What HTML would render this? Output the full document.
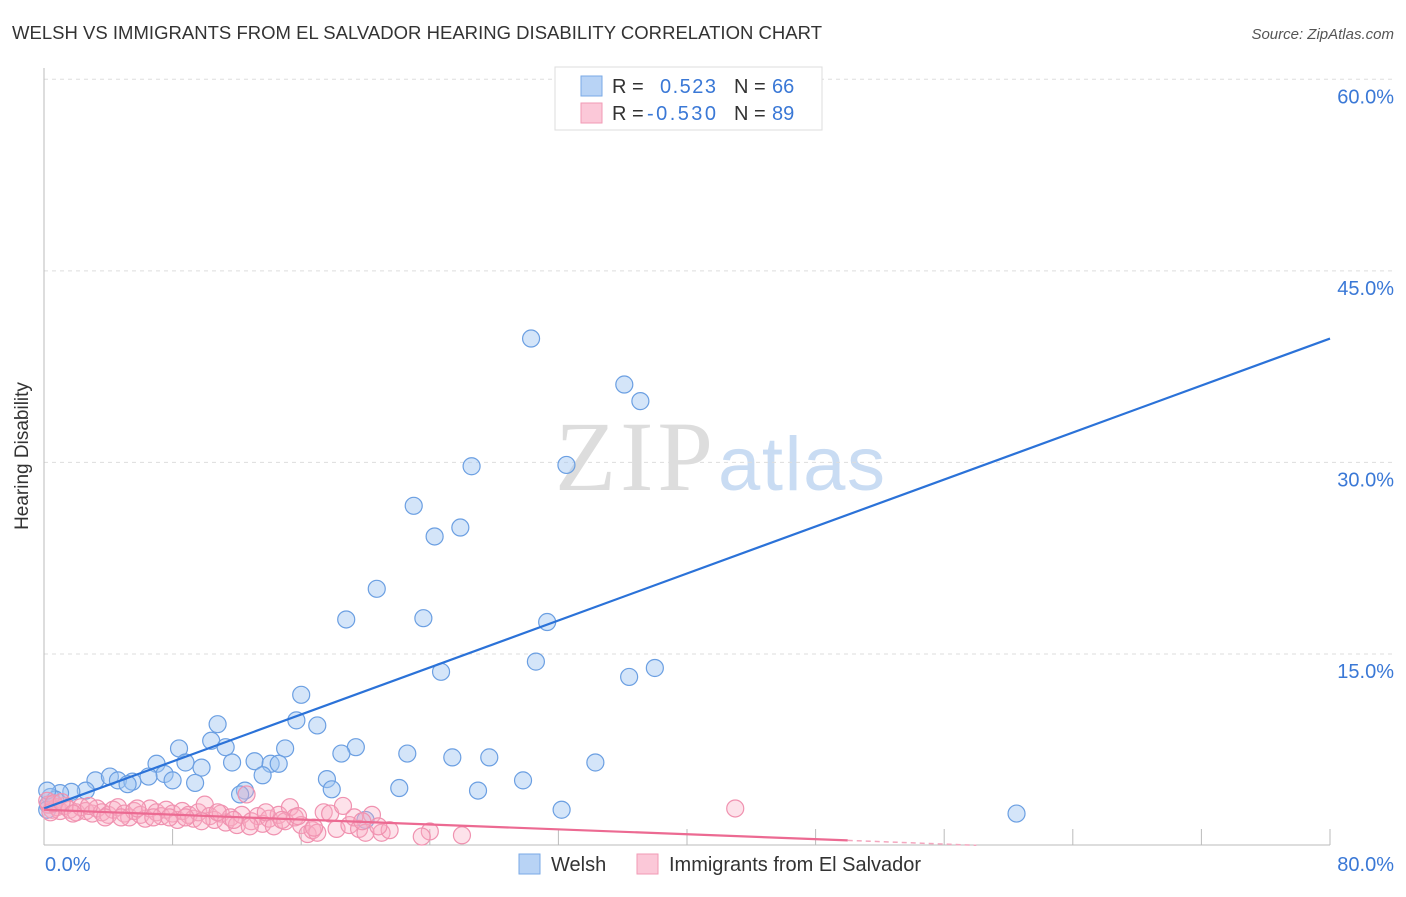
<!DOCTYPE html>
<html><head><meta charset="utf-8"><style>
body{margin:0;background:#fff;font-family:"Liberation Sans",sans-serif;}
svg text{font-family:"Liberation Sans",sans-serif;}
</style></head><body>
<svg id="chart" width="1406" height="892">
<text x="12" y="39" font-size="18.5" fill="#333" textLength="810">WELSH VS IMMIGRANTS FROM EL SALVADOR HEARING DISABILITY CORRELATION CHART</text>
<text x="1394" y="39" font-size="15" fill="#555" font-style="italic" text-anchor="end">Source: ZipAtlas.com</text>
<text x="28" y="456" font-size="19" fill="#333" text-anchor="middle" transform="rotate(-90 28 456)">Hearing Disability</text>
<g>
<text x="555" y="490" font-size="100" fill="#ddd" textLength="158" style="font-family:'Liberation Serif',serif">ZIP</text>
<text x="718" y="490" font-size="76" fill="#c9dcf3" textLength="167">atlas</text>
</g>
<g id="grid"></g>
<g id="axes"></g>
<g id="pts"></g>
<g id="lines"></g>
<g>
<rect x="555" y="67" width="267" height="63" fill="#fff" stroke="#ddd"/>
<rect x="581" y="76" width="21" height="20" fill="#b8d3f5" stroke="#7aaae6"/>
<text x="612" y="93" font-size="20" fill="#333">R =</text>
<text x="660" y="93" font-size="20" fill="#3a78d6" textLength="56">0.523</text>
<text x="734" y="93" font-size="20" fill="#333">N =</text>
<text x="772" y="93" font-size="20" fill="#3a78d6">66</text>
<rect x="581" y="103" width="21" height="20" fill="#fbc8d8" stroke="#f19ab5"/>
<text x="612" y="120" font-size="20" fill="#333">R =</text>
<text x="647" y="120" font-size="20" fill="#3a78d6" textLength="69">-0.530</text>
<text x="734" y="120" font-size="20" fill="#333">N =</text>
<text x="772" y="120" font-size="20" fill="#3a78d6">89</text>
</g>
<g>
<rect x="519" y="854" width="21" height="20" fill="#b8d3f5" stroke="#7aaae6"/>
<text x="551" y="871" font-size="20" fill="#333">Welsh</text>
<rect x="637" y="854" width="21" height="20" fill="#fbc8d8" stroke="#f19ab5"/>
<text x="669" y="871" font-size="20" fill="#333" textLength="252">Immigrants from El Salvador</text>
</g>
</svg>
<script>
const yTicks=[15,30,45,60];
const yTickLabels=["15.0%","30.0%","45.0%","60.0%"];
const xTickLabels=["0.0%","80.0%"];
const welshX=[30.3,36.1,37.1,26.6,32.5,23.0,24.3,25.9,20.7,18.8,23.6,31.3,30.6,24.7,36.4,38.0,60.5,16.0,15.7,17.0,10.8,8.4,10.4,11.3,15.0,19.4,18.5,22.6,25.4,27.7,34.3,8.8,9.8,11.7,13.1,14.1,14.6,13.6,17.6,29.8,7.0,7.5,6.5,8.0,9.4,3.2,4.1,4.6,5.5,5.2,17.9,22.1,27.0,12.5,12.2,32.2,2.6,1.7,1.0,0.4,0.7,0.25,20.0,0.2,0.2,40.0];
const welshY=[39.7,36.1,34.8,29.7,29.8,26.6,24.2,24.9,20.1,17.7,17.8,17.5,14.4,13.6,13.2,13.9,2.5,11.8,9.8,9.4,9.5,7.6,8.2,7.7,7.6,7.7,7.2,7.2,6.9,6.9,6.5,6.5,6.1,6.5,6.6,6.4,6.4,5.5,5.2,5.1,6.4,5.6,5.4,5.1,4.9,5.1,5.4,5.1,5.0,4.8,4.4,4.5,4.3,4.3,4.0,2.8,4.3,4.2,4.1,3.8,3.6,3.2,2.0,2.8,4.3,60.0];
const salvX=[0.3,0.5,0.8,1.0,1.3,1.6,2.0,2.3,2.6,3.0,3.3,3.6,4.0,4.3,4.6,5.0,5.3,5.6,6.0,6.3,6.6,7.0,7.3,7.6,8.0,8.3,8.6,9.0,9.3,9.6,10.0,10.3,10.6,11.0,11.3,11.6,12.0,12.3,12.6,12.9,13.3,13.6,14.0,14.3,14.6,15.0,15.3,15.6,16.0,16.4,16.7,17.0,17.4,17.8,18.2,18.6,19.0,19.3,19.6,20.0,20.4,21.0,21.5,24.0,26.0,43.0,0.2,0.4,0.6,1.1,1.8,2.8,3.8,4.8,5.8,6.8,7.8,8.8,9.8,10.8,11.8,12.8,13.8,14.8,15.8,16.8,19.8,20.8,23.5];
const salvY=[3.2,2.8,3.0,2.7,3.1,2.8,2.6,3.0,2.7,2.5,2.9,2.6,2.4,2.8,3.0,2.5,2.2,2.7,2.4,2.1,2.9,2.6,2.3,2.8,2.5,2.0,2.7,2.4,2.1,2.6,3.2,2.3,2.0,2.5,1.8,2.2,1.6,2.4,4.0,1.9,2.3,1.7,2.1,1.5,2.4,1.9,3.0,2.2,1.6,0.9,1.2,1.0,2.6,2.5,1.3,3.1,1.6,2.2,1.3,1.0,2.4,1.0,1.2,1.1,0.8,2.9,3.5,2.6,3.3,3.4,2.5,3.1,2.2,2.2,2.9,2.2,2.2,2.2,1.9,2.6,2.0,1.5,2.6,2.0,2.3,1.4,1.9,1.5,0.7];
const welshTrend=[2.9,0.46];   // intercept, slope
const salvTrend=[2.8,-0.048];
const NS='http://www.w3.org/2000/svg';
const X=v=>44+v/80*1286, Y=v=>845.5-v*12.77;
function mk(tag,attrs,parent){const e=document.createElementNS(NS,tag);for(const k in attrs)e.setAttribute(k,attrs[k]);document.getElementById(parent).appendChild(e);return e;}
yTicks.forEach((t,i)=>{
 const l=mk('line',{x1:44,x2:1394,y1:Y(t),y2:Y(t),stroke:'#ddd','stroke-dasharray':'4,4'},'grid');
 
 
 const tx=mk('text',{x:1394,y:Y(t)+24,'font-size':20,fill:'#3a78d6','text-anchor':'end'},'grid');
 tx.textContent=yTickLabels[i];
 
 
});
mk('line',{x1:44,x2:44,y1:68,y2:845,stroke:'#bbb'},'axes');
mk('line',{x1:44,x2:1330,y1:845,y2:845,stroke:'#bbb'},'axes');
for(let i=1;i<=10;i++){mk('line',{x1:X(i*8),x2:X(i*8),y1:829,y2:845,stroke:'#bbb'},'axes');}
[[0,'start',45],[80,'end',1394]].forEach((d,i)=>{
 const tx=mk('text',{x:d[2],y:871,'font-size':20,fill:'#3a78d6','text-anchor':d[1]},'axes');
 tx.textContent=xTickLabels[i];
 
 
});
welshX.forEach((x,i)=>{
 const c=mk('circle',{cx:X(x),cy:Y(welshY[i]),r:8.5,fill:'rgba(160,198,242,0.45)',stroke:'#6b9fe2','stroke-width':1.2},'pts');
 
 
});
salvX.forEach((x,i)=>{
 const c=mk('circle',{cx:X(x),cy:Y(salvY[i]),r:8.5,fill:'rgba(248,172,196,0.35)',stroke:'#f092b0','stroke-width':1.2},'pts');
 
 
});
const wl=mk('line',{x1:X(0),y1:Y(welshTrend[0]),x2:X(80),y2:Y(welshTrend[0]+80*welshTrend[1]),stroke:'#2b72d8','stroke-width':2.2},'lines');


const sl=mk('line',{x1:X(0),y1:Y(salvTrend[0]),x2:X(50),y2:Y(salvTrend[0]+50*salvTrend[1]),stroke:'#ec6a92','stroke-width':2.2},'lines');


const sd=mk('line',{x1:X(50),y1:Y(salvTrend[0]+50*salvTrend[1]),x2:X(58),y2:Y(salvTrend[0]+58*salvTrend[1]),stroke:'#f4a7bf','stroke-width':1.5,'stroke-dasharray':'5,4'},'lines');


</script>
</body></html>
